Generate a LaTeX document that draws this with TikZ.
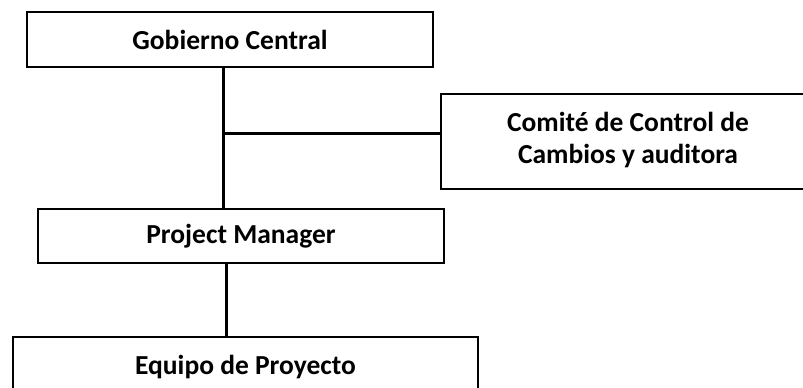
\documentclass[tikz,border=0pt]{standalone}
\usepackage{fontspec}
\setmainfont{Carlito}
\begin{document}
\begin{tikzpicture}[x=1pt, y=-1pt,
    box/.style={draw, line width=2pt, rectangle, inner sep=0pt,
        font=\fontsize{27.5}{32}\selectfont\bfseries, align=center},
    link/.style={line width=3pt}]
    \useasboundingbox (0,0) rectangle (803,388);

    % Boxes
    \node[box, minimum width=406pt, minimum height=55pt] (gobierno) at (230,39.5) {Gobierno Central};
    \node[box, minimum width=374pt, minimum height=95pt] (comite) at (628,141.5)
        {\raisebox{-3pt}{\begin{tabular}{@{}c@{}}Comité de Control de\\Cambios y auditora\end{tabular}}};
    \node[box, minimum width=406pt, minimum height=54pt] (pm) at (241,236) {Project Manager};
    \node[box, minimum width=465pt, minimum height=60pt] (equipo) at (245.5,367) {Equipo de Proyecto};

    % Connectors
    \coordinate (junction) at (223,133);
    \draw[link] (gobierno.south -| junction) -- (pm.north -| junction);
    \draw[link] (junction) -- (comite.west |- junction);
    \draw[link] ([xshift=-15pt]pm.south) -- ([xshift=-15pt]pm.south |- equipo.north);
\end{tikzpicture}
\end{document}
